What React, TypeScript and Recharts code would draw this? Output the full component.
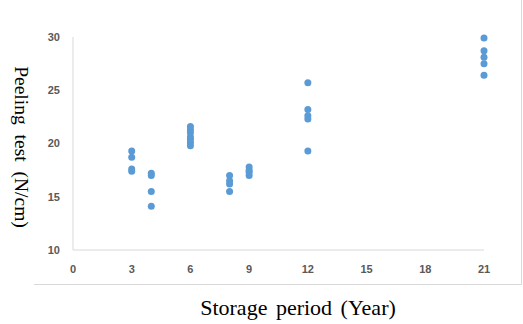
import React from 'react';
import { ScatterChart, Scatter, XAxis, YAxis, Label } from 'recharts';

const years3 = [19.3, 18.7, 17.6, 17.4];
const years4 = [17.2, 17.0, 15.5, 14.1];
const years6 = [21.6, 21.3, 21.0, 20.6, 20.4, 20.1, 19.8];
const years8 = [17.0, 16.5, 16.2, 15.5];
const years9 = [17.8, 17.5, 17.3, 17.0];
const years12 = [25.7, 23.2, 22.6, 22.3, 19.3];
const years21 = [29.9, 28.7, 28.1, 27.5, 26.4];

const groups: [number, number[]][] = [
  [3, years3],
  [4, years4],
  [6, years6],
  [8, years8],
  [9, years9],
  [12, years12],
  [21, years21],
];

const xTicks = [0, 3, 6, 9, 12, 15, 18, 21];
const yTicks = [10, 15, 20, 25, 30];

const data = groups.flatMap(([x, ys]) => ys.map((y) => ({ x, y })));

const tickStyle = { fill: '#595959', fontSize: 11, fontWeight: 700, fontFamily: 'Liberation Sans, Arial, sans-serif' };

export default function App() {
  return (
    <div style={{ position: 'absolute', left: 0, top: 0, width: 523, height: 324, background: '#fff' }}>
      <div
        style={{
          position: 'absolute',
          left: 34,
          top: 0,
          width: 487,
          height: 284,
          borderRight: '1px solid #d9d9d9',
          borderBottom: '1px solid #d9d9d9',
        }}
      />
      <div style={{ position: 'absolute', left: 0, top: 0 }}>
        <ScatterChart width={523} height={324} margin={{ top: 37, right: 39, bottom: 44, left: 33 }}>
          <XAxis
            type="number"
            dataKey="x"
            domain={[0, 21]}
            ticks={xTicks}
            interval={0}
            tickLine={false}
            tickMargin={9}
            height={30}
            axisLine={{ stroke: '#d9d9d9' }}
            tick={tickStyle}
          >
            <Label
              content={() => (
                <text
                  x={298}
                  y={315}
                  textAnchor="middle"
                  fontFamily="Liberation Serif, Times New Roman, serif"
                  fontSize={22}
                  fill="#000"
                  style={{ wordSpacing: 3 }}
                >
                  Storage period (Year)
                </text>
              )}
            />
          </XAxis>
          <YAxis
            type="number"
            dataKey="y"
            domain={[10, 30]}
            ticks={yTicks}
            interval={0}
            tickLine={false}
            tickMargin={7}
            width={40}
            axisLine={{ stroke: '#d9d9d9' }}
            tick={tickStyle}
          >
            <Label
              content={() => (
                <text
                  x={15}
                  y={147}
                  transform="rotate(90, 15, 147)"
                  textAnchor="middle"
                  fontFamily="Liberation Serif, Times New Roman, serif"
                  fontSize={19.5}
                  fill="#000"
                  style={{ wordSpacing: 5 }}
                >
                  Peeling test (N/cm)
                </text>
              )}
            />
          </YAxis>
          <Scatter
            data={data}
            fill="#5b9bd5"
            isAnimationActive={false}
            shape={(p: any) => <circle cx={p.cx} cy={p.cy} r={3.5} fill="#5b9bd5" />}
          />
        </ScatterChart>
      </div>
    </div>
  );
}
